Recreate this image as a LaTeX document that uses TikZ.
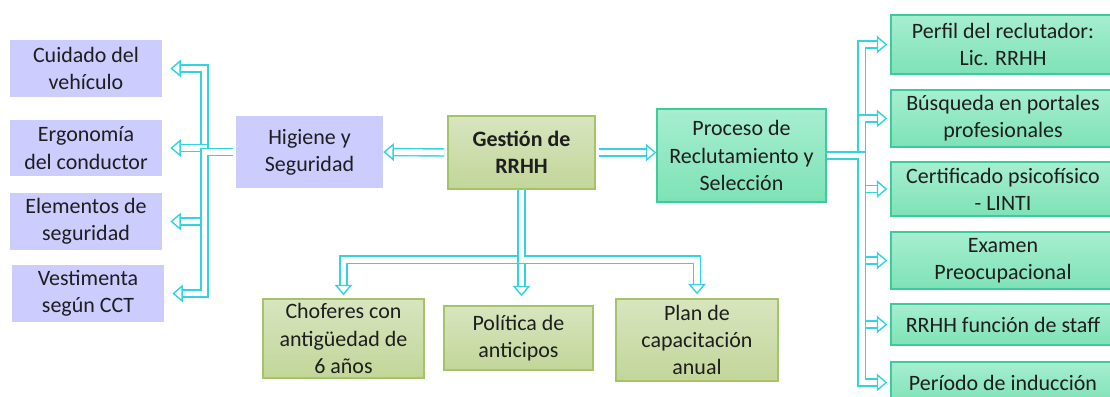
\documentclass[tikz,border=0pt]{standalone}
\usepackage{fontspec}
\setmainfont{Carlito}
\usetikzlibrary{arrows.meta}
\definecolor{lavfill}{HTML}{CCCCFF}
\definecolor{olivetop}{HTML}{D8E5BF}
\definecolor{olivebot}{HTML}{C2D699}
\definecolor{oliveline}{HTML}{A5C468}
\definecolor{tealtop}{HTML}{A6EED0}
\definecolor{tealbot}{HTML}{7EE2B6}
\definecolor{tealline}{HTML}{3ECB9C}
\definecolor{connline}{HTML}{33D3E0}
\definecolor{txtcol}{HTML}{1E1E1E}
\begin{document}
\begin{tikzpicture}[x=0.02cm,y=-0.02cm,
    every node/.style={font=\fontsize{12.5}{15.5}\selectfont, text=txtcol, align=center, inner sep=0pt},
    lavbox/.style={fill=lavfill, minimum width=3.04cm, minimum height=1.14cm},
    olivebox/.style={top color=olivetop, bottom color=olivebot, draw=oliveline, line width=0.8pt},
    tealbox/.style={top color=tealtop, bottom color=tealbot, draw=tealline, line width=0.8pt},
    conn/.style={draw=connline, line width=0.8pt, double=white, double distance=3.2pt,
      -{Triangle[open, fill=white, length=6pt, width=10pt, line width=0.8pt]}}]
    \useasboundingbox (0,0) rectangle (1110,396);
    % left column
    \node[lavbox] (cuid) at (86,68.5) {Cuidado del\\vehículo};
    \node[lavbox] (ergo) at (86,148) {Ergonomía\\del conductor};
    \node[lavbox] (elem) at (86,221.5) {Elementos de\\seguridad};
    \node[lavbox] (vest) at (88,293.5) {Vestimenta\\según CCT};
    \node[lavbox, minimum width=2.94cm, minimum height=1.44cm] (hig) at (309.5,152) {Higiene y\\Seguridad};
    % centre
    \node[olivebox, minimum width=2.94cm, minimum height=1.46cm] (gest) at (521.5,152.5) {\bfseries Gestión de\\\bfseries RRHH};
    \node[tealbox, minimum width=3.38cm, minimum height=1.86cm] (proc) at (741.5,155.5) {Proceso de\\Reclutamiento y\\Selección};
    % bottom row
    \node[olivebox, minimum width=3.22cm, minimum height=1.58cm] (chof) at (343.5,338.5) {Choferes con\\antigüedad de\\6 años};
    \node[olivebox, minimum width=2.98cm, minimum height=1.28cm] (pol) at (518.5,338) {Política de\\anticipos};
    \node[olivebox, minimum width=3.24cm, minimum height=1.64cm] (plan) at (697,340) {Plan de\\capacitación\\anual};
    % right column
    \node[tealbox, minimum width=4.48cm, minimum height=1.18cm] (perf) at (1003,44.5) {Perfil del reclutador:\\Lic. RRHH};
    \node[tealbox, minimum width=4.48cm, minimum height=1.14cm] (busq) at (1003,118.5) {Búsqueda en portales\\profesionales};
    \node[tealbox, minimum width=4.48cm, minimum height=1.08cm] (cert) at (1003,189) {Certificado psicofísico\\- LINTI};
    \node[tealbox, minimum width=4.48cm, minimum height=1.14cm] (exam) at (1003,260.5) {Examen\\Preocupacional};
    \node[tealbox, minimum width=4.48cm, minimum height=0.82cm] (staf) at (1003,324.5) {RRHH función de staff};
    \node[tealbox, minimum width=4.48cm, minimum height=0.82cm] (indu) at (1003,382.5) {Período de inducción};
    % connectors
    \draw[conn, shorten <=0.06cm] (gest.west) -- (hig.east);
    \draw[conn, shorten <=0.06cm] (gest.east) -- (gest.east -| proc.west);
    \foreach \n in {cuid,ergo,elem,vest}
      \draw[conn, shorten <=0.06cm, shorten >=0.16cm] (hig.west) -- ++(-31,0) |- (\n.east);
    \foreach \n in {perf,busq,cert,exam,staf,indu}
      \draw[conn, shorten >=0.06cm] (proc.east) -- ++(35,0) |- (\n.west);
    \draw[conn, shorten >=0.06cm] (gest.south) -- ++(0,70) -| (chof.north);
    \draw[conn, shorten >=0.18cm] (gest.south) -- (gest.south |- pol.north);
    \draw[conn, shorten >=0.08cm] (gest.south) -- ++(0,70) -| (plan.north);
  \end{tikzpicture}
\end{document}
